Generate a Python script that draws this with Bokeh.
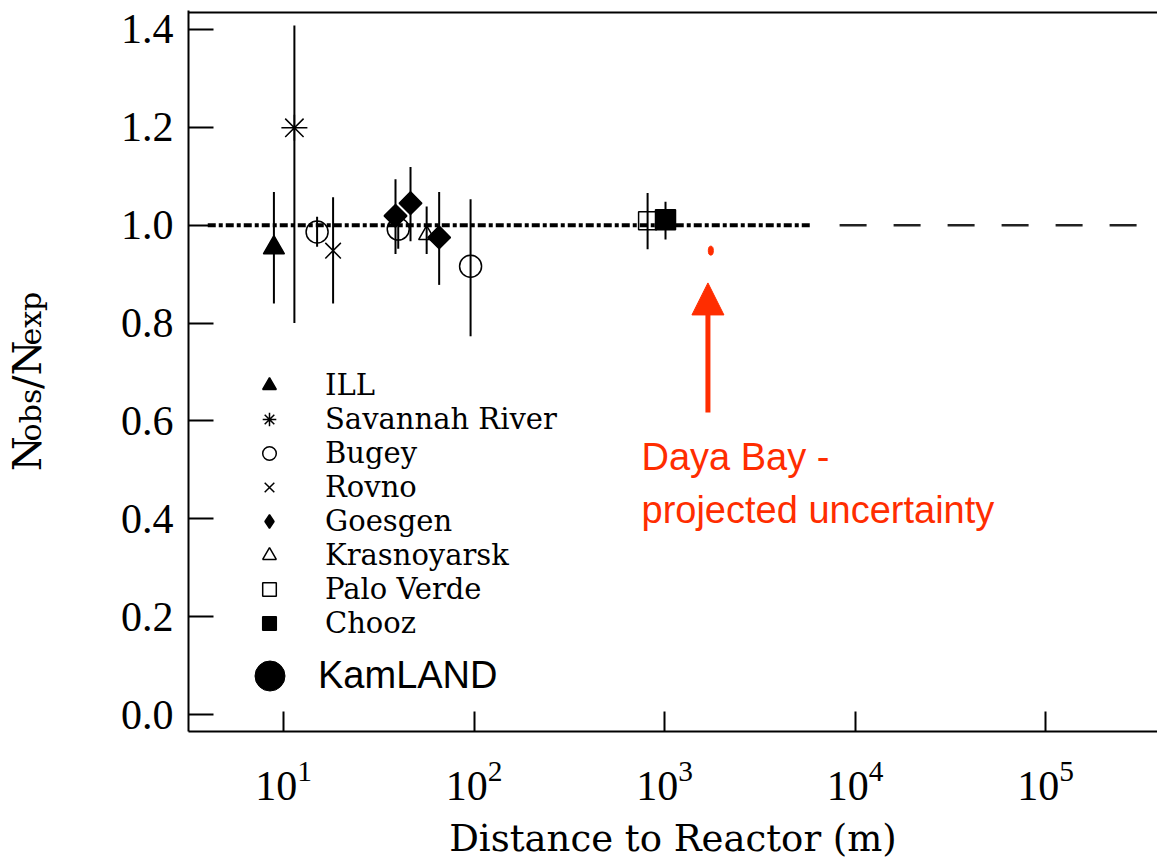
import math
from bokeh.plotting import figure
from bokeh.layouts import row
from bokeh.models import (Range1d, FixedTicker, NumeralTickFormatter, ColumnDataSource,
                          Legend, LegendItem, Label, Arrow, NormalHead, Span)
from bokeh.embed import file_html
from bokeh.resources import INLINE

# ---------------- data ----------------
ill_dist = [8.9];            ill_ratio = [0.954];   ill_lo = [0.840];   ill_hi = [1.068]
sr_dist = [11.4];            sr_ratio = [1.199];    sr_lo = [0.800];    sr_hi = [1.408]
bugey_dist = [15.0, 40.0, 95.9]
bugey_ratio = [0.986, 0.992, 0.916]
bugey_lo = [0.956, 0.952, 0.773]
bugey_hi = [1.017, 1.032, 1.053]
rovno_dist = [18.2];         rovno_ratio = [0.948]; rovno_lo = [0.840]; rovno_hi = [1.057]
goesgen_dist = [38.7, 46.4, 65.6]
goesgen_ratio = [1.019, 1.045, 0.975]
goesgen_lo = [0.941, 0.967, 0.878]
goesgen_hi = [1.094, 1.119, 1.068]
kras_dist = [56.4];          kras_ratio = [0.980];  kras_lo = [0.941];  kras_hi = [1.038]
pv_dist = [815.0];           pv_ratio = [1.009];    pv_lo = [0.951];    pv_hi = [1.066]
chooz_dist = [1012.0];       chooz_ratio = [1.011]; chooz_lo = [0.971]; chooz_hi = [1.048]
# KamLAND appears only in the legend (no point shown in the picture)
kamland_dist = [float("nan")]; kamland_ratio = [float("nan")]

dayabay_dist = [1750.0];     dayabay_ratio = [0.948]
arrow_dist = 1690.0
arrow_from = 0.617
arrow_to = 0.882

ref_ratio = 1.0
ref_dotted_x = [4.0, 6000.0]
ref_dashed_x = [8300.0, 4.0e5]

y_ticks = [0.0, 0.2, 0.4, 0.6, 0.8, 1.0, 1.2, 1.4]
x_ticks = [10, 100, 1000, 10000, 100000]

experiments = ["ILL", "Savannah River", "Bugey", "Rovno", "Goesgen",
               "Krasnoyarsk", "Palo Verde", "Chooz"]

RED = "#ff2d00"
NAN = [float("nan")]

# ---------------- main figure ----------------
p = figure(width=1087, height=862, x_axis_type="log",
           x_range=Range1d(10 ** 0.501, 10 ** 5.588),
           y_range=Range1d(-0.0346, 1.4387),
           output_backend="svg", toolbar_location=None,
           min_border_left=118, min_border_right=0,
           min_border_top=10, min_border_bottom=129)
p.outline_line_color = None
p.background_fill_color = "white"
p.border_fill_color = "white"
p.xgrid.grid_line_color = None
p.ygrid.grid_line_color = None

# top frame line
p.add_layout(Span(location=1.4346, dimension="width", line_color="black", line_width=2))

# reference lines at 1.0
p.line(ref_dotted_x, [ref_ratio, ref_ratio], line_color="black", line_width=4,
       line_dash="8 3 4 3")
p.line(ref_dashed_x, [ref_ratio, ref_ratio], line_color="#222222", line_width=2.5,
       line_dash="27 27")

series = [
    ("ILL", ill_dist, ill_ratio, ill_lo, ill_hi, dict(marker="triangle", size=21, fill_color="black"), None),
    ("Savannah River", sr_dist, sr_ratio, sr_lo, sr_hi, dict(marker="asterisk", size=26, fill_color=None), None),
    ("Bugey", bugey_dist, bugey_ratio, bugey_lo, bugey_hi, dict(marker="circle", size=22, fill_color=None), None),
    ("Rovno", rovno_dist, rovno_ratio, rovno_lo, rovno_hi, dict(marker="x", size=22, fill_color=None), None),
    ("Goesgen", goesgen_dist, goesgen_ratio, goesgen_lo, goesgen_hi,
     dict(marker="square", size=16, angle=math.pi / 4, fill_color="black"),
     dict(marker="diamond", fill_color="black")),
    ("Krasnoyarsk", kras_dist, kras_ratio, kras_lo, kras_hi, dict(marker="triangle", size=16, fill_color=None), None),
    ("Palo Verde", pv_dist, pv_ratio, pv_lo, pv_hi, dict(marker="square", size=18, fill_color=None), None),
    ("Chooz", chooz_dist, chooz_ratio, chooz_lo, chooz_hi, dict(marker="square", size=20, fill_color="black"), None),
]

items = []
for name, d, r, lo, hi, style, legend_style in series:
    src = ColumnDataSource(dict(x=d, y=r, lo=lo, hi=hi))
    p.segment(x0="x", y0="lo", x1="x", y1="hi", source=src, line_color="black", line_width=2)
    rend = p.scatter(x="x", y="y", source=src, line_color="black", line_width=1.5, **style)
    if legend_style is not None:
        rend = p.scatter(x=NAN, y=NAN, line_color="black", line_width=1.5, **legend_style)
    items.append(LegendItem(label=name, renderers=[rend]))

kam_src = ColumnDataSource(dict(x=kamland_dist, y=kamland_ratio))
kam_r = p.scatter(x="x", y="y", source=kam_src, marker="circle", size=30,
                  fill_color="black", line_color="black")

# Daya Bay projected point
p.ellipse(x=dayabay_dist, y=dayabay_ratio, width=5, height=9,
          width_units="screen", height_units="screen",
          fill_color=RED, line_color=RED)

p.add_layout(Arrow(x_start=arrow_dist, y_start=arrow_from, x_end=arrow_dist, y_end=arrow_to,
                   line_color=RED, line_width=5,
                   end=NormalHead(size=32, fill_color=RED, line_color=RED)))

p.add_layout(Label(x=453, y=275, x_units="screen", y_units="screen", text="Daya Bay -",
                   text_font="Liberation Sans", text_font_size="38px", text_color=RED,
                   text_baseline="alphabetic"))
p.add_layout(Label(x=453, y=222, x_units="screen", y_units="screen",
                   text="projected  uncertainty",
                   text_font="Liberation Sans", text_font_size="38px", text_color=RED,
                   text_baseline="alphabetic"))

# legends
leg = Legend(items=items, location=(60, 91), border_line_color=None,
             background_fill_alpha=0, padding=0, margin=0, spacing=0,
             glyph_width=42, glyph_height=34, label_height=34, label_standoff=35,
             label_text_font="DejaVu Serif", label_text_font_size="29px",
             label_text_color="black")
p.add_layout(leg)
leg2 = Legend(items=[LegendItem(label="KamLAND", renderers=[kam_r])], location=(44, 18),
              border_line_color=None, background_fill_alpha=0, padding=0, margin=0,
              spacing=0, glyph_width=75, glyph_height=75, label_standoff=11,
              label_text_font="Liberation Sans", label_text_font_size="38px",
              label_text_color="black")
p.add_layout(leg2)

# axes
p.yaxis.ticker = FixedTicker(ticks=y_ticks)
p.yaxis.formatter = NumeralTickFormatter(format="0.0")
p.yaxis.major_tick_in = 25
p.yaxis.major_tick_out = 0
p.yaxis.minor_tick_line_color = None
p.yaxis.major_label_standoff = 15
p.yaxis.major_label_text_font = "Liberation Serif"
p.yaxis.major_label_text_font_size = "42px"
p.yaxis.major_label_text_color = "black"
p.yaxis.axis_line_width = 2
p.yaxis.major_tick_line_width = 2

p.xaxis.ticker = FixedTicker(ticks=x_ticks)
p.xaxis.major_tick_in = 20
p.xaxis.major_tick_out = 0
p.xaxis.minor_tick_line_color = None
p.xaxis.major_label_standoff = 30
p.xaxis.major_label_text_font = "Liberation Serif"
p.xaxis.major_label_text_font_size = "42px"
p.xaxis.major_label_text_color = "black"
p.xaxis.axis_line_width = 2
p.xaxis.major_tick_line_width = 2
p.xaxis.axis_label = "Distance to Reactor (m)"
p.xaxis.axis_label_text_font = "DejaVu Serif"
p.xaxis.axis_label_text_font_size = "37px"
p.xaxis.axis_label_text_font_style = "normal"
p.xaxis.axis_label_text_color = "black"
p.xaxis.axis_label_standoff = 14

# ---------------- y-axis title panel: N_obs/N_exp ----------------
# the row aligns this panel's frame with the main frame (window y 10..733),
# so the y range is chosen to make data y == 862 - window y
LW = 70
ylab = figure(width=LW, height=862, x_range=Range1d(0, LW), y_range=Range1d(129, 852),
              output_backend="svg", toolbar_location=None,
              x_axis_location=None, y_axis_location=None,
              min_border=0, min_border_left=0, min_border_right=0,
              min_border_top=10, min_border_bottom=129)
ylab.outline_line_color = None
ylab.xgrid.grid_line_color = None
ylab.ygrid.grid_line_color = None
ylab.background_fill_color = "white"
ylab.border_fill_color = "white"

big, small = 40, 30
pieces = [("N", big, 0.748 * big, 26), ("obs", small, 1.755 * small, 30),
          ("/", big, 0.337 * big, 26), ("N", big, 0.748 * big, 26),
          ("exp", small, 1.796 * small, 30)]
ypos = 862 - 472
for txt, fs, ln, xb in pieces:
    ylab.add_layout(Label(x=xb, y=ypos, text=txt, angle=math.pi / 2,
                          text_font="DejaVu Serif", text_font_size=f"{fs}px",
                          text_color="black", text_baseline="alphabetic",
                          text_align="left"))
    ypos += ln

layout = row(ylab, p)
open("out.html", "w").write(file_html(layout, INLINE))
